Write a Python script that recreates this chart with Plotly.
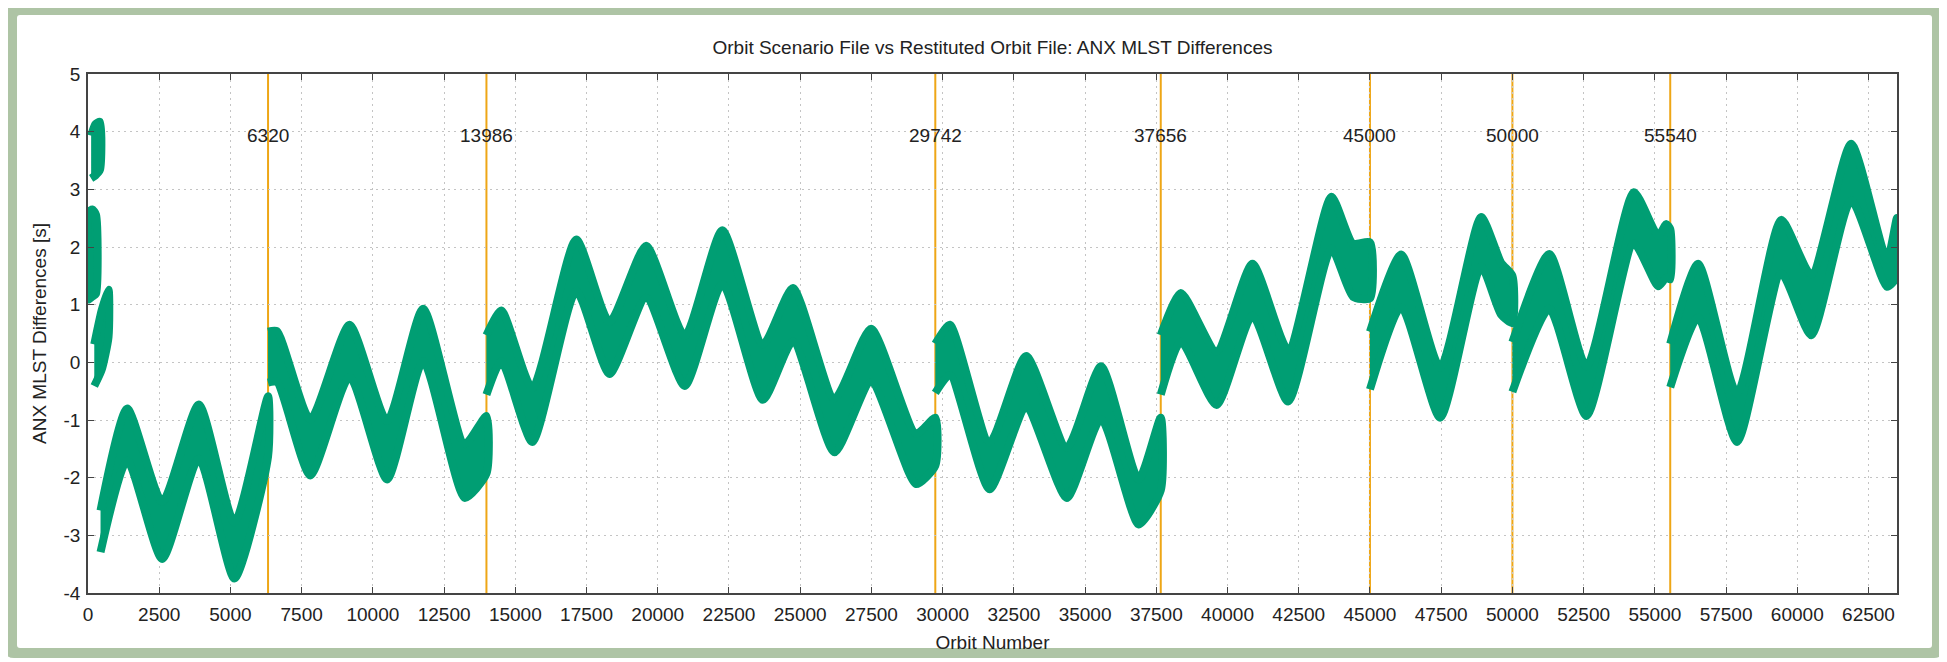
import plotly.graph_objects as go

# ---------------- data ----------------
event_orbits = [6320, 13986, 29742, 37656, 45000, 50000, 55540]
event_labels = ["6320", "13986", "29742", "37656", "45000", "50000", "55540"]

x_tick_vals = [0, 2500, 5000, 7500, 10000, 12500, 15000, 17500, 20000, 22500,
               25000, 27500, 30000, 32500, 35000, 37500, 40000, 42500, 45000,
               47500, 50000, 52500, 55000, 57500, 60000, 62500]
y_tick_vals = [-4, -3, -2, -1, 0, 1, 2, 3, 4, 5]
y_tick_text = ["-4", "-3", "-2", "-1", "0", "1", "2", "3", "4", "5"]

# outer envelope (upper / lower edge) of the plotted point cloud, per continuous piece
seg0a_x = [110, 260, 420]
seg0a_top = [4.00, 4.20, 4.24]
seg0a_bot = [3.12, 3.17, 3.27]

seg0b_x = [0, 30, 150, 280]
seg0b_top = [2.00, 2.68, 2.72, 2.63]
seg0b_bot = [1.02, 1.02, 1.07, 1.12]

seg0c_x = [220, 480, 720]
seg0c_top = [0.38, 0.97, 1.33]
seg0c_bot = [-0.48, -0.20, 0.37]

seg1_x = [440, 1378, 2605, 3890, 5140, 6320]
seg1_top = [-2.50, -0.73, -2.35, -0.66, -2.71, -0.52]
seg1_bot = [-3.36, -1.77, -3.48, -1.74, -3.82, -1.70]

seg2_x = [6320, 6634, 7802, 9180, 10500, 11764, 13224, 13986]
seg2_top = [0.60, 0.61, -0.92, 0.72, -0.95, 1.00, -1.35, -0.86]
seg2_bot = [-0.42, -0.41, -2.03, -0.32, -2.10, -0.05, -2.42, -2.00]

seg3_x = [13986, 14509, 15595, 17137, 18305, 19590, 20947, 22266, 23691,
          24743, 26203, 27487, 29064, 29742]
seg3_top = [0.54, 0.97, -0.38, 2.20, 0.77, 2.09, 0.53, 2.36, 0.38,
            1.36, -0.56, 0.65, -1.17, -0.89]
seg3_bot = [-0.63, -0.05, -1.45, 1.17, -0.27, 1.05, -0.48, 1.29, -0.72,
            0.29, -1.63, -0.41, -2.18, -1.86]

seg4_x = [29742, 30255, 31647, 32932, 34357, 35560, 36880, 37656]
seg4_top = [0.39, 0.72, -1.32, 0.18, -1.41, 0.00, -1.96, -0.89]
seg4_bot = [-0.60, -0.29, -2.27, -0.86, -2.42, -1.05, -2.88, -2.29]

seg5_x = [37656, 38363, 39613, 40875, 42126, 43645, 44400, 45000]
seg5_top = [0.54, 1.27, 0.26, 1.78, 0.29, 2.94, 2.13, 2.15]
seg5_bot = [-0.63, 0.29, -0.81, 0.74, -0.75, 1.90, 1.07, 1.04]

seg6_x = [45000, 46097, 47464, 48901, 49600, 50000]
seg6_top = [0.60, 1.94, -0.02, 2.59, 1.80, 1.57]
seg6_bot = [-0.54, 0.89, -1.03, 1.59, 0.76, 0.61]

seg7_x = [50000, 51295, 52600, 54264, 55117, 55400, 55540]
seg7_top = [0.42, 1.95, 0.00, 3.02, 2.26, 2.47, 2.38]
seg7_bot = [-0.58, 0.86, -1.00, 1.99, 1.25, 1.40, 1.37]

seg8_x = [55540, 56518, 57885, 59438, 60490, 61891, 63150, 63500]
seg8_top = [0.39, 1.78, -0.47, 2.54, 1.59, 3.86, 1.85, 2.57]
seg8_bot = [-0.50, 0.71, -1.45, 1.47, 0.40, 2.74, 1.24, 1.42]

segments = [
    (seg0a_x, seg0a_top, seg0a_bot),
    (seg0b_x, seg0b_top, seg0b_bot),
    (seg0c_x, seg0c_top, seg0c_bot),
    (seg1_x, seg1_top, seg1_bot),
    (seg2_x, seg2_top, seg2_bot),
    (seg3_x, seg3_top, seg3_bot),
    (seg4_x, seg4_top, seg4_bot),
    (seg5_x, seg5_top, seg5_bot),
    (seg6_x, seg6_top, seg6_bot),
    (seg7_x, seg7_top, seg7_bot),
    (seg8_x, seg8_top, seg8_bot),
]

# ---------------- styling ----------------
OFF = 8                      # default body margin of the html page
PAGE_W, PAGE_H = 1947, 662
W, H = PAGE_W - OFF, PAGE_H - OFF
# plot area in page pixels: left 88, right 1897, top 74, bottom 593
ML = 88 - OFF
MT = 74 - OFF
MR = W - (1897 - OFF)
MB = H - (593 - OFF)
GREEN = "#009e73"
ORANGE = "#eea616"
FRAME = "#aec4a5"
FONT = "Liberation Sans, Arial, Helvetica, sans-serif"
TXT = "#222222"
FS = 19
Y_RANGE = [-4, 5]
X_RANGE = [0, 63500]

# the cloud is drawn with a thick rounded outline (like point markers);
# pull the envelope in by half the outline width so the outer edge lands on the read values
OUTLINE_W = 8
pw, ph = W - ML - MR, H - MT - MB
half_y = (OUTLINE_W / 2) * (Y_RANGE[1] - Y_RANGE[0]) / ph

fig = go.Figure()

for xs, top, bot in segments:
    t = [v - half_y for v in top]
    b = [v + half_y for v in bot]
    fig.add_trace(go.Scatter(
        x=list(xs) + list(xs)[::-1],
        y=t + b[::-1],
        mode="lines",
        fill="toself",
        fillcolor=GREEN,
        line=dict(color=GREEN, width=OUTLINE_W, shape="spline", smoothing=0.6),
        hoverinfo="skip",
        showlegend=False,
    ))

shapes = []


def fx(px):  # page pixel -> paper fraction
    return (px - OFF - ML) / pw


def fy(py):
    return (H - MB - (py - OFF)) / ph


def rr_path(x0, y0, x1, y1, r):
    pts = [
        ("M", x0 + r, y0), ("L", x1 - r, y0), ("Q", x1, y0, x1, y0 + r),
        ("L", x1, y1 - r), ("Q", x1, y1, x1 - r, y1), ("L", x0 + r, y1),
        ("Q", x0, y1, x0, y1 - r), ("L", x0, y0 + r), ("Q", x0, y0, x0 + r, y0),
    ]
    out = []
    for p in pts:
        coords = p[1:]
        s = [f"{fx(coords[i]):.5f},{fy(coords[i + 1]):.5f}" for i in range(0, len(coords), 2)]
        out.append(p[0] + " " + " ".join(s))
    return " ".join(out) + " Z"


shapes.append(dict(type="path", xref="paper", yref="paper", layer="below",
                   path=rr_path(5, 4, 1943, 658, 9), fillcolor=FRAME, line=dict(width=0)))
shapes.append(dict(type="path", xref="paper", yref="paper", layer="below",
                   path=rr_path(17, 15, 1932, 648, 3), fillcolor="white", line=dict(width=0)))

for xo in event_orbits:
    shapes.append(dict(type="line", xref="x", yref="y", x0=xo, x1=xo,
                       y0=Y_RANGE[0], y1=Y_RANGE[1],
                       layer="below", line=dict(color=ORANGE, width=2)))

annotations = []
for xo, lab in zip(event_orbits, event_labels):
    annotations.append(dict(x=xo, y=3.94, xref="x", yref="y", text=lab, showarrow=False,
                            xanchor="center", yanchor="middle",
                            font=dict(family=FONT, size=FS, color=TXT)))

axis_common = dict(
    showgrid=True, gridcolor="#c4c4c4", griddash="2px,4px", gridwidth=1,
    zeroline=False, showline=True, linecolor="#444444", linewidth=1.5,
    mirror="ticks", ticks="inside", ticklen=6, tickwidth=1.2, tickcolor="#444444",
    tickfont=dict(family=FONT, size=FS, color=TXT),
)

fig.update_layout(
    width=W, height=H,
    margin=dict(l=ML, r=MR, t=MT, b=MB, autoexpand=False),
    paper_bgcolor="white", plot_bgcolor="white",
    shapes=shapes, annotations=annotations,
    title=dict(text="Orbit Scenario File vs Restituted Orbit File: ANX MLST Differences",
               x=0.5, xref="paper", y=1 - (47 - OFF) / H, yref="container",
               xanchor="center", yanchor="middle",
               font=dict(family=FONT, size=FS, color=TXT)),
    xaxis=dict(range=X_RANGE, tickvals=x_tick_vals, tickformat="d",
               ticklabelstandoff=3,
               title=dict(text="Orbit Number", standoff=12,
                          font=dict(family=FONT, size=FS, color=TXT)),
               automargin=False, **axis_common),
    yaxis=dict(range=Y_RANGE, tickvals=y_tick_vals, ticktext=y_tick_text,
               ticklabelstandoff=2,
               title=dict(text="ANX MLST Differences [s]", standoff=12,
                          font=dict(family=FONT, size=FS, color=TXT)),
               automargin=False, **axis_common),
    showlegend=False,
)

fig.write_html("out.html")
